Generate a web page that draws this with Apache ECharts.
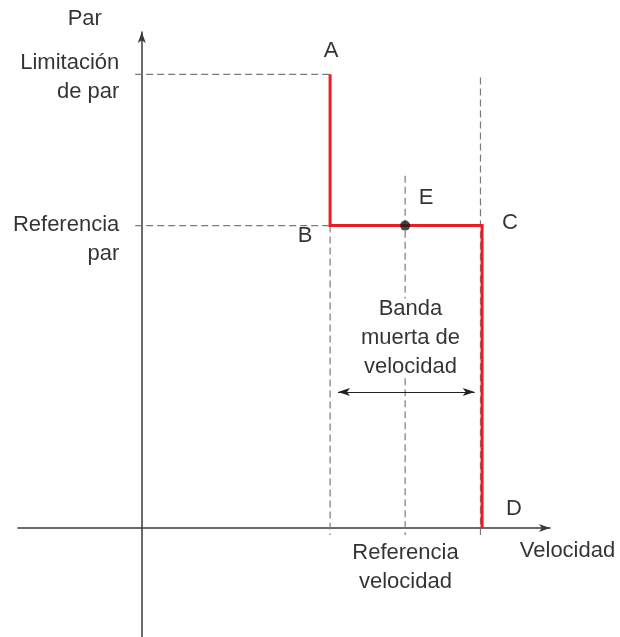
<!DOCTYPE html>
<html>
<head>
<meta charset="utf-8">
<script src="https://cdn.jsdelivr.net/npm/echarts@6/dist/echarts.min.js"></script>
<style>
  html, body { margin: 0; padding: 0; background: #fff; }
  #chart { width: 620px; height: 637px; }
</style>
</head>
<body>
<div id="chart"></div>
<script>
// Speed (x) / torque (y), arbitrary units
const speedRange = [-47, 155];
const torqueRange = [-36, 164];

const speedRef = 100;
const speedLow = 71.5;    // B
const speedHigh = 129.2;  // C
const torqueRef = 100;
const torqueLimit = 150;

// red characteristic A -> B -> C -> D
const curveNames = ['A', 'B', 'C', 'D'];
const curveSpeed = [speedLow, speedLow, speedHigh, speedHigh];
const curveTorque = [torqueLimit, torqueRef, torqueRef, 0];

// operating point E
const pointName = 'E';
const pointSpeed = speedRef;
const pointTorque = torqueRef;

// text
const yName = 'Par';
const xName = 'Velocidad';
const limitLabel = 'Limitación\nde par';
const torqueRefLabel = 'Referencia\npar';
const speedRefLabel = 'Referencia\nvelocidad';
const bandLabel = 'Banda\nmuerta de\nvelocidad';
const bandArrowTorque = 45;

const FONT = "'Liberation Sans', Arial, sans-serif";
const TXT = '#000';
const RED = '#ed1c24';
const GREY = '#7a7a7a';

// letter offsets from their curve points
const letterOffsets = {
  A: [1, -23], B: [-25, 10], C: [28, -3], D: [32, -19]
};

function dashed(points) {
  return {
    type: 'line', data: points, symbol: 'none', silent: true, z: 1,
    lineStyle: { color: GREY, width: 1.2, type: [7, 4] }
  };
}

function textItem(x, y, text, offset, align) {
  return {
    value: [x, y],
    label: {
      show: true, formatter: text, position: [0, 0], offset: offset,
      align: align || 'center', verticalAlign: 'middle'
    }
  };
}

const option = {
  animation: false,
  backgroundColor: '#fff',
  grid: { left: 18, right: 70, top: 32, bottom: 0 },
  xAxis: {
    type: 'value', min: speedRange[0], max: speedRange[1],
    axisLine: { onZero: true, symbol: ['none', 'arrow'], symbolSize: [6, 11],
      lineStyle: { color: '#3a3a3a', width: 1.5 } },
    axisTick: { show: false }, axisLabel: { show: false }, splitLine: { show: false }
  },
  yAxis: {
    type: 'value', min: torqueRange[0], max: torqueRange[1],
    axisLine: { onZero: true, symbol: ['none', 'arrow'], symbolSize: [6, 11],
      lineStyle: { color: '#3a3a3a', width: 1.5 } },
    axisTick: { show: false }, axisLabel: { show: false }, splitLine: { show: false }
  },
  series: [
    dashed([[-2.5, torqueLimit], [speedLow, torqueLimit]]),
    dashed([[-2.5, torqueRef], [speedLow, torqueRef]]),
    dashed([[speedLow, torqueRef], [speedLow, -2.3]]),
    dashed([[speedRef, 116.5], [speedRef, 75.9]]),
    dashed([[speedRef, 49.5], [speedRef, -2.3]]),
    dashed([[speedHigh - 0.6, 149], [speedHigh - 0.6, -2.3]]),
    {
      // dead band double arrow
      type: 'line', data: [], silent: true, z: 2,
      markLine: {
        silent: true, animation: false,
        symbol: ['arrow', 'arrow'], symbolSize: [6, 12],
        lineStyle: { color: '#222', width: 1.2, type: 'solid' },
        label: { show: false },
        data: [[{ coord: [speedLow + 3, bandArrowTorque] }, { coord: [speedHigh - 2.8, bandArrowTorque] }]]
      }
    },
    {
      type: 'line', z: 3, silent: true,
      data: curveSpeed.map((s, i) => [s, curveTorque[i]]),
      symbol: 'none',
      lineStyle: { color: RED, width: 3, join: 'miter' }
    },
    {
      // letters on the curve corners
      type: 'scatter', z: 4, clip: false, silent: true, symbolSize: 0,
      data: curveSpeed.map((s, i) => ({
        value: [s, curveTorque[i]],
        label: { show: true, formatter: curveNames[i], position: [0, 0],
          offset: letterOffsets[curveNames[i]], align: 'center', verticalAlign: 'middle' }
      })),
      label: { fontFamily: FONT, fontSize: 22, color: TXT }
    },
    {
      type: 'scatter', z: 4, silent: true,
      data: [{
        value: [pointSpeed, pointTorque],
        label: { show: true, formatter: pointName, position: [0, 0], offset: [26, -23],
          align: 'center', verticalAlign: 'middle' }
      }],
      symbolSize: 10,
      itemStyle: { color: '#1a1a1a' },
      label: { fontFamily: FONT, fontSize: 22, color: TXT }
    },
    {
      // axis texts
      type: 'scatter', z: 5, clip: false, silent: true, symbolSize: 0,
      label: { fontFamily: FONT, fontSize: 22, color: TXT, lineHeight: 29 },
      data: [
        textItem(0, torqueRange[1], yName, [-57, -13]),
        textItem(0, torqueLimit, limitLabel, [-22.5, 2.6], 'right'),
        textItem(0, torqueRef, torqueRefLabel, [-22.5, 13.4], 'right'),
        textItem(speedRef, bandArrowTorque, bandLabel, [5.3, -54]),
        textItem(speedRef, 0, speedRefLabel, [0.3, 39.3]),
        textItem(speedRange[1], 0, xName, [17.5, 22.6])
      ]
    }
  ]
};

const chart = echarts.init(document.getElementById('chart'), null, { renderer: 'canvas' });
chart.setOption(option);
</script>
</body>
</html>
